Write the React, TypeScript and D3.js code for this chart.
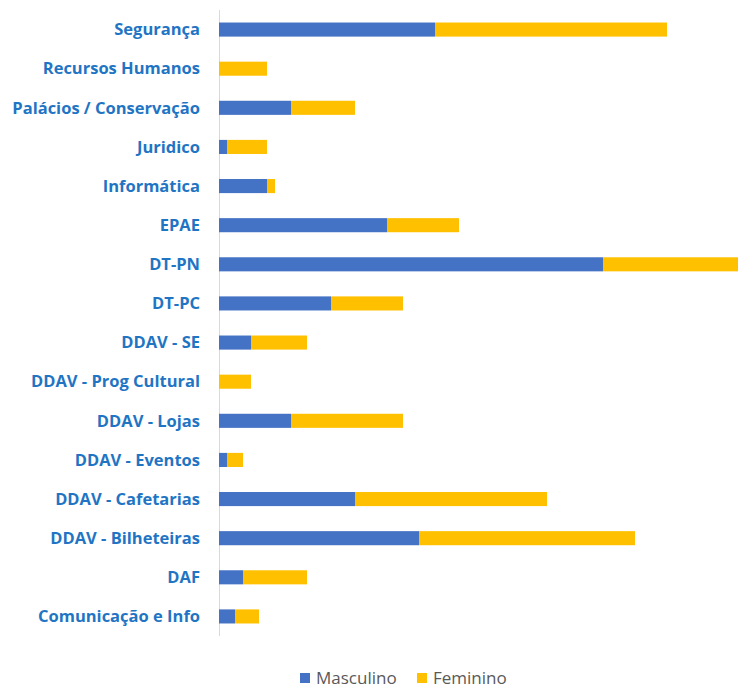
import * as d3 from "d3";
import { useEffect, useRef } from "react";

const categories = [
  "Segurança",
  "Recursos Humanos",
  "Palácios / Conservação",
  "Juridico",
  "Informática",
  "EPAE",
  "DT-PN",
  "DT-PC",
  "DDAV - SE",
  "DDAV - Prog Cultural",
  "DDAV - Lojas",
  "DDAV - Eventos",
  "DDAV - Cafetarias",
  "DDAV - Bilheteiras",
  "DAF",
  "Comunicação e Info",
];
const masculino = [27, 0, 9, 1, 6, 21, 48, 14, 4, 0, 9, 1, 17, 25, 3, 2];
const feminino = [29, 6, 8, 5, 1, 9, 17, 9, 7, 4, 14, 2, 24, 27, 8, 3];
const seriesNames = ["Masculino", "Feminino"];
const seriesColors = ["#4472C4", "#FFC000"];

const App = () => {
  const svgRef = useRef<SVGSVGElement | null>(null);

  useEffect(() => {
    const width = 738,
      height = 690;
    const svg = d3.select(svgRef.current);
    svg.selectAll("*").remove();

    const rows = categories.map((c, i) => ({
      cat: c,
      Masculino: masculino[i],
      Feminino: feminino[i],
    }));
    const stacked = d3.stack<any>().keys(seriesNames)(rows);

    // y bands
    const y = d3.scaleBand()
      .domain(categories)
      .range([10, 636])
      .paddingInner(0.64)
      .paddingOuter(0.32);

    // x: 0 sits on the axis line, 8px per person
    const x = d3.scaleLinear().domain([0, 65]).range([219, 739]);

    // axis line
    svg.append("line")
      .attr("x1", 219.5).attr("x2", 219.5)
      .attr("y1", 10).attr("y2", 636)
      .attr("stroke", "#d9d9d9")
      .attr("stroke-width", 1);

    // bars
    svg.selectAll(".serie")
      .data(stacked)
      .enter()
      .append("g")
      .attr("fill", (d, i) => seriesColors[i])
      .selectAll("rect")
      .data((d) => d.map((p) => ({ p, cat: p.data.cat })))
      .enter()
      .append("rect")
      .attr("x", (d) => x(d.p[0]))
      .attr("y", (d) => y(d.cat)!)
      .attr("width", (d) => x(d.p[1]) - x(d.p[0]))
      .attr("height", y.bandwidth());

    // category labels
    svg.append("g")
      .selectAll("text")
      .data(categories)
      .enter()
      .append("text")
      .attr("x", 200)
      .attr("y", (d) => y(d)! + y.bandwidth() / 2)
      .attr("dy", "0.35em")
      .attr("text-anchor", "end")
      .attr("font-family", "'Open Sans', sans-serif")
      .attr("font-weight", "bold")
      .attr("font-size", 16.5)
      .attr("fill", "#1F75C4")
      .text((d) => d);

    // legend
    const legendX = [300, 417];
    const legend = svg.append("g")
      .selectAll("g")
      .data(seriesNames)
      .enter()
      .append("g")
      .attr("transform", (d, i) => "translate(" + legendX[i] + ",678)");
    legend.append("rect")
      .attr("x", 0).attr("y", -5)
      .attr("width", 10).attr("height", 10)
      .attr("fill", (d, i) => seriesColors[i]);
    legend.append("text")
      .attr("x", 16)
      .attr("dy", "0.35em")
      .attr("font-family", "'Open Sans', sans-serif")
      .attr("font-size", 17)
      .attr("fill", "#595959")
      .text((d) => d);

    svg.attr("width", width).attr("height", height);
  }, []);

  return (
    <svg
      ref={svgRef}
      width={738}
      height={690}
      style={{ position: "absolute", left: 0, top: 0, background: "#fff" }}
    />
  );
};

export default App;
